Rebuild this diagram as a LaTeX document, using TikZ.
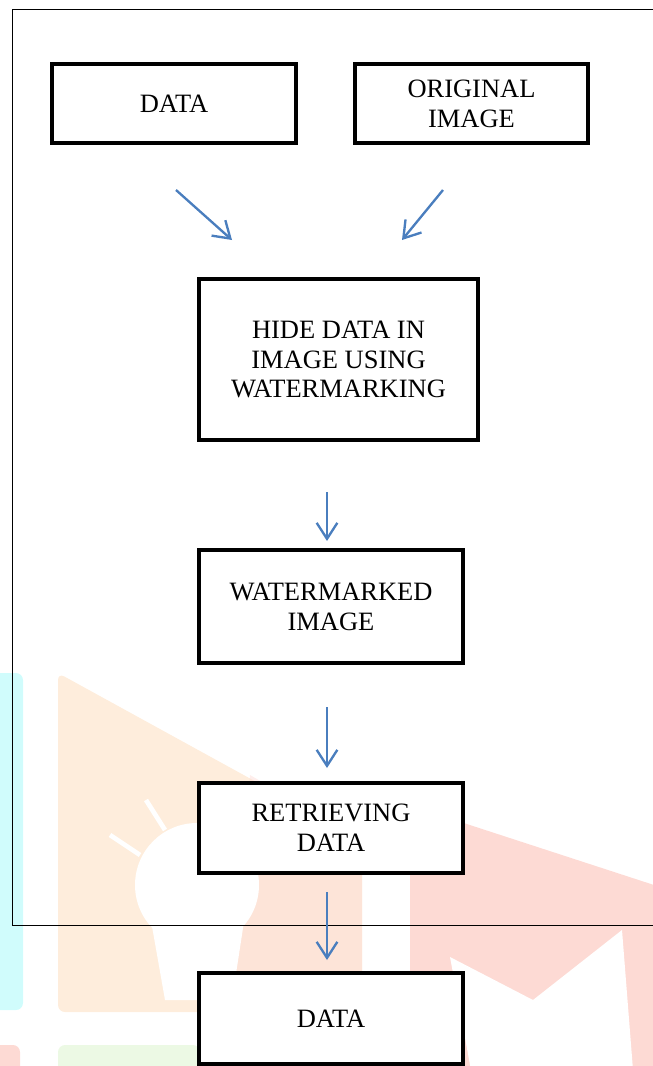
\documentclass[tikz,border=0pt]{standalone}
\usepackage{fontspec}
\setmainfont{Liberation Serif}
\usepackage{xcolor}
\usetikzlibrary{arrows.meta,positioning}
\definecolor{flowc}{RGB}{74,126,190}
\definecolor{wmcyan}{RGB}{208,252,252}
\definecolor{wmpeach}{RGB}{254,237,220}
\definecolor{wmpink}{RGB}{253,218,212}
\definecolor{wmgreen}{RGB}{236,249,228}

\begin{document}
\begin{tikzpicture}[x=0.03cm,y=-0.03cm,
  font=\fontsize{22.6}{25.5}\selectfont,
  box/.style={draw,line width=3.6pt,fill=white,align=center,inner sep=2pt},
  flow/.style={draw=flowc,line width=2pt,-{Straight Barb[length=4.8mm,width=6.2mm,line width=2pt]}},
  bg/.style={draw=none}]
\clip (0,0) rectangle (653,1066);
% ---- faint background logo ----
\fill[wmcyan,rounded corners=6] (-10,673) rectangle (23,1010);
\fill[wmpeach,rounded corners=6] (58,673) -- (362,840) -- (362,1012) -- (58,1012) -- cycle;
\fill[wmpink,opacity=0.45] (250,775) -- (362,840) -- (362,1012) -- (230,1012) -- cycle;
\fill[white] (197,885) circle (62);
\fill[white] (150,915) -- (245,915) -- (232,1000) -- (165,1000) -- cycle;
\draw[white,line width=4pt] (146,800) -- (165,830);
\draw[white,line width=4pt] (110,835) -- (140,855);
\fill[wmpink,rounded corners=8] (410,817) -- (430,812) -- (700,900) -- (700,1080) -- (410,1080) -- cycle;
\fill[white] (450,957) -- (533,1000) -- (622,930) -- (633,1070) -- (471,1070) -- cycle;
\fill[wmgreen,rounded corners=6] (58,1045) rectangle (200,1090);
\fill[wmpink,rounded corners=6] (-10,1045) rectangle (20,1090);
% ---- frame ----
\draw[line width=0.6pt] (700,9) -- (12,9) -- (12,925) -- (700,925);
% ---- boxes ----
\node[box,minimum width=7.32cm,minimum height=2.37cm] (data) at (174,103.5) {DATA};
\node[box,minimum width=6.99cm,minimum height=2.37cm] (orig) at (471.5,103.5) {ORIGINAL\\IMAGE};
\node[box,minimum width=8.37cm,minimum height=4.83cm] (hide) at (338.5,359.5) {HIDE DATA IN\\IMAGE USING\\WATERMARKING};
\node[box,minimum width=7.92cm,minimum height=3.39cm] (wmimg) at (331,606.5) {WATERMARKED\\IMAGE};
\node[box,minimum width=7.92cm,minimum height=2.70cm] (retr) at (331,828) {RETRIEVING\\DATA};
\node[box,minimum width=7.92cm,minimum height=2.73cm] (out) at (331,1018.5) {DATA};
% ---- arrows ----
\coordinate (a1s) at (176,190); \coordinate (a1e) at (232,240);
\coordinate (a2s) at (443,190); \coordinate (a2e) at (402,240);
\coordinate (a3s) at (327,492); \coordinate (a3e) at (327,541);
\coordinate (a4s) at (327,707); \coordinate (a4e) at (327,768);
\coordinate (a5s) at (327,892); \coordinate (a5e) at (327,960);
\draw[flow] (a1s) -- (a1e);
\draw[flow] (a2s) -- (a2e);
\draw[flow] (a3s) -- (a3e);
\draw[flow] (a4s) -- (a4e);
\draw[flow] (a5s) -- (a5e);
\end{tikzpicture}
\end{document}
